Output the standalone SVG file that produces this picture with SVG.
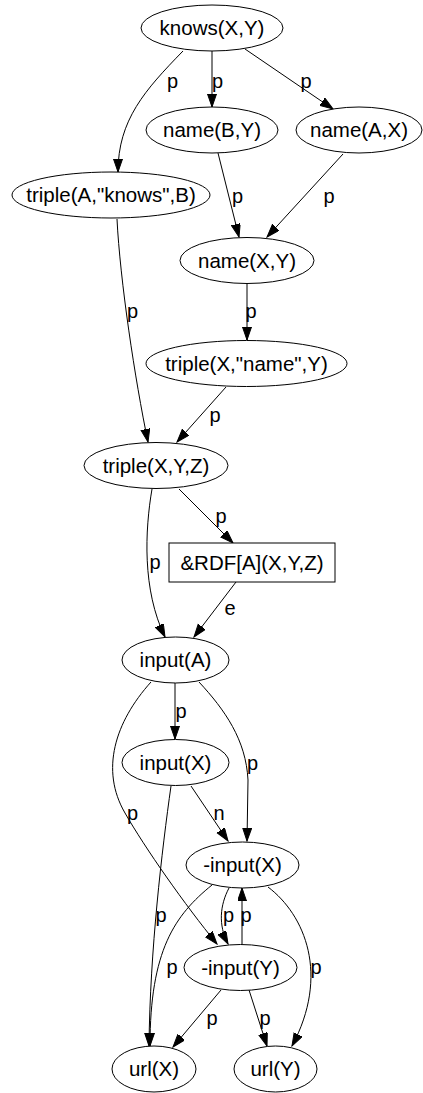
<svg xmlns="http://www.w3.org/2000/svg" width="423" height="1093" viewBox="0 0 423 1093">
<style>
.node ellipse, .node rect { fill: #ffffff; stroke: #000000; stroke-width: 1; }
.node text { font-family: "Liberation Sans", Arial, sans-serif; font-size: 20.5px; text-anchor: middle; fill: #000000; }
.edges path { fill: none; stroke: #000000; stroke-width: 1; marker-end: url(#arrow); }
.edges text { font-family: "Liberation Sans", Arial, sans-serif; font-size: 20px; text-anchor: middle; fill: #000000; }
</style>
<defs>
<marker id="arrow" markerUnits="userSpaceOnUse" markerWidth="14" markerHeight="10" refX="13" refY="4.5" orient="auto">
<path d="M0,0 L13,4.5 L0,9 Z" fill="#000000" stroke="#000000" stroke-width="1"/>
</marker>
</defs>
<rect width="423" height="1093" fill="#ffffff"/>
<g id="edges" class="edges">
<path d="M183,51 C145,90 118,120 118,172"/>
<text x="172.5" y="88">p</text>
<path d="M212,51 L212,107"/>
<text x="217.5" y="88">p</text>
<path d="M245,49 L333,109"/>
<text x="306" y="88">p</text>
<path d="M218,153 L239,237"/>
<text x="237.5" y="203">p</text>
<path d="M343,154 L267,237"/>
<text x="329" y="203">p</text>
<path d="M117,219 C120,280 135,380 148,442"/>
<text x="132.5" y="317.5">p</text>
<path d="M247,284 L247,340"/>
<text x="251" y="317.5">p</text>
<path d="M226,387 L177,442"/>
<text x="215" y="421.5">p</text>
<path d="M179,489 L233,543"/>
<text x="221" y="522.5">p</text>
<path d="M152,489 C145,530 142,590 165,637"/>
<text x="155" y="568.5">p</text>
<path d="M236,582 L194,637"/>
<text x="230" y="614.5">e</text>
<path d="M175,683 L175,739"/>
<text x="181" y="718">p</text>
<path d="M151,682 C115,722 100,770 125,813 C145,848 185,905 217,944"/>
<text x="132.5" y="820">p</text>
<path d="M199,682 C225,710 246,740 248,780 L247,841"/>
<text x="252.5" y="769.5">p</text>
<path d="M171,786 C162,850 150,950 149,1046"/>
<text x="161" y="921.5">p</text>
<path d="M191,786 L228,841"/>
<text x="219" y="819.5">n</text>
<path d="M229,888 C220,905 218,925 228,944"/>
<text x="228.5" y="921.5">p</text>
<path d="M242,944 L242,888"/>
<text x="246" y="921.5">p</text>
<path d="M212,885 C175,915 150,950 150,1046"/>
<text x="172" y="973.5">p</text>
<path d="M268,887 C305,915 330,975 292,1046"/>
<text x="316" y="973.5">p</text>
<path d="M221,990 L173,1047"/>
<text x="212" y="1024.5">p</text>
<path d="M249,990 L267,1046"/>
<text x="265" y="1024.5">p</text>
</g>
<g id="n_knows" class="node"><ellipse cx="212" cy="28" rx="71" ry="23"/><text x="212" y="35">knows(X,Y)</text></g>
<g id="n_nameBY" class="node"><ellipse cx="212" cy="130" rx="66" ry="23"/><text x="212" y="137">name(B,Y)</text></g>
<g id="n_nameAX" class="node"><ellipse cx="359" cy="130" rx="63" ry="23"/><text x="359" y="137">name(A,X)</text></g>
<g id="n_tripleknows" class="node"><ellipse cx="111" cy="195" rx="99" ry="23"/><text x="111" y="202">triple(A,"knows",B)</text></g>
<g id="n_nameXY" class="node"><ellipse cx="247" cy="260.5" rx="67" ry="23"/><text x="247" y="267.5">name(X,Y)</text></g>
<g id="n_triplename" class="node"><ellipse cx="246.5" cy="363.5" rx="100.5" ry="23"/><text x="246.5" y="370.5">triple(X,"name",Y)</text></g>
<g id="n_tripleXYZ" class="node"><ellipse cx="156" cy="465.5" rx="72" ry="23"/><text x="156" y="472.5">triple(X,Y,Z)</text></g>
<g id="n_rdf" class="node"><rect x="169" y="543" width="166" height="39"/><text x="252" y="569.5">&amp;RDF[A](X,Y,Z)</text></g>
<g id="n_inputA" class="node"><ellipse cx="175.5" cy="660" rx="53.5" ry="23"/><text x="175.5" y="667">input(A)</text></g>
<g id="n_inputX" class="node"><ellipse cx="175.5" cy="762.5" rx="53.5" ry="23"/><text x="175.5" y="769.5">input(X)</text></g>
<g id="n_ninputX" class="node"><ellipse cx="242.5" cy="865" rx="56.5" ry="23"/><text x="242.5" y="872">-input(X)</text></g>
<g id="n_ninputY" class="node"><ellipse cx="240.5" cy="967.5" rx="56.5" ry="23"/><text x="240.5" y="974.5">-input(Y)</text></g>
<g id="n_urlX" class="node"><ellipse cx="154" cy="1069" rx="42" ry="23"/><text x="154" y="1076">url(X)</text></g>
<g id="n_urlY" class="node"><ellipse cx="275.5" cy="1069" rx="41.5" ry="23"/><text x="275.5" y="1076">url(Y)</text></g>
</svg>
